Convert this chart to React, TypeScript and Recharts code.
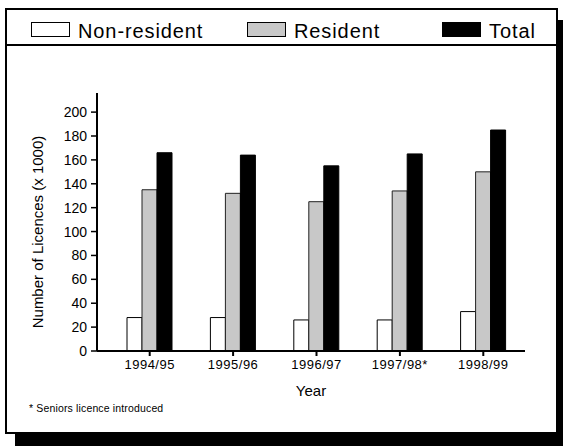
import { BarChart, Bar, XAxis, YAxis, Label } from 'recharts';

const CATEGORIES = ['1994/95', '1995/96', '1996/97', '1997/98*', '1998/99'];
const NON_RESIDENT = [28, 28, 26, 26, 33];
const RESIDENT = [135, 132, 125, 134, 150];
const TOTAL = [166, 164, 155, 165, 185];
const Y_TICKS = [0, 20, 40, 60, 80, 100, 120, 140, 160, 180, 200];

const SERIES = [
  { key: 'nonResident', name: 'Non-resident', fill: '#ffffff', stroke: '#000' },
  { key: 'resident', name: 'Resident', fill: '#c8c8c8', stroke: '#222' },
  { key: 'total', name: 'Total', fill: '#000000', stroke: '#000' },
];

const LEGEND_LEFT = [26, 242, 437];

const FONT = '"Liberation Sans", Arial, Helvetica, sans-serif';

const chartData = CATEGORIES.map((year, i) => ({
  year,
  nonResident: NON_RESIDENT[i],
  resident: RESIDENT[i],
  total: TOTAL[i],
}));

function YLabel({ viewBox }: any) {
  const x = viewBox.x + 37;
  const y = viewBox.y + viewBox.height / 2 + 10;
  return (
    <text
      x={x}
      y={y}
      transform={`rotate(-90, ${x}, ${y})`}
      textAnchor="middle"
      dominantBaseline="central"
      fontSize={15}
      fill="#000"
      fontFamily={FONT}
    >
      Number of Licences (x 1000)
    </text>
  );
}

export default function App() {
  return (
    <div
      style={{
        position: 'absolute',
        left: 0,
        top: 0,
        width: 563,
        height: 446,
        overflow: 'hidden',
        fontFamily: FONT,
        background: '#fff',
      }}
    >
      {/* framed panel with drop shadow */}
      <div
        style={{
          position: 'absolute',
          left: 5,
          top: 8,
          width: 553,
          height: 426,
          boxSizing: 'border-box',
          border: '2px solid #000',
          background: '#fff',
          boxShadow: '10px 12px 0 #000',
        }}
      />
      {/* legend strip */}
      <div
        style={{
          position: 'absolute',
          left: 5,
          top: 8,
          width: 553,
          height: 38,
          boxSizing: 'border-box',
          borderBottom: '2px solid #000',
        }}
      >
        {SERIES.map((s, i) => (
          <div
            key={s.key}
            style={{
              position: 'absolute',
              left: LEGEND_LEFT[i],
              top: 14,
              height: 15,
              display: 'flex',
              alignItems: 'center',
              whiteSpace: 'nowrap',
            }}
          >
            <span
              style={{
                display: 'inline-block',
                width: 39,
                height: 15,
                boxSizing: 'border-box',
                background: s.fill,
                border: '1px solid #000',
                marginRight: 8,
              }}
            />
            <span
              style={{
                fontSize: 20,
                letterSpacing: 0.9,
                color: '#000',
                lineHeight: '15px',
                position: 'relative',
                top: 2,
              }}
            >
              {s.name}
            </span>
          </div>
        ))}
      </div>

      <BarChart
        width={563}
        height={446}
        data={chartData}
        margin={{ top: 93, right: 38, left: 0, bottom: 50 }}
        barGap={0}
        style={{ position: 'absolute', left: 0, top: 0 }}
      >
        <XAxis
          dataKey="year"
          height={45}
          padding={{ left: 11, right: 0 }}
          axisLine={{ stroke: '#000', strokeWidth: 2 }}
          tickLine={{ stroke: '#000', strokeWidth: 2 }}
          tickSize={5}
          tickMargin={4}
          tick={{ fill: '#000', fontSize: 13, fontFamily: FONT, letterSpacing: 0.5 }}
          interval={0}
        >
          <Label
            value="Year"
            position="insideBottom"
            offset={0}
            fill="#000"
            fontSize={15}
            fontFamily={FONT}
          />
        </XAxis>
        <YAxis
          width={97}
          domain={[0, 216]}
          ticks={Y_TICKS}
          interval={0}
          axisLine={{ stroke: '#000', strokeWidth: 2 }}
          tickLine={{ stroke: '#000', strokeWidth: 1.5 }}
          tickSize={6}
          tickMargin={4}
          tick={{ fill: '#000', fontSize: 14, fontFamily: FONT }}
        >
          <Label content={<YLabel />} />
        </YAxis>
        {SERIES.map((s) => (
          <Bar
            key={s.key}
            dataKey={s.key}
            name={s.name}
            fill={s.fill}
            stroke={s.stroke}
            strokeWidth={1}
            barSize={15}
            isAnimationActive={false}
          />
        ))}
      </BarChart>

      <div
        style={{
          position: 'absolute',
          left: 29,
          top: 402,
          fontSize: 10.5,
          letterSpacing: 0.15,
          color: '#000',
        }}
      >
        * Seniors licence introduced
      </div>
    </div>
  );
}
